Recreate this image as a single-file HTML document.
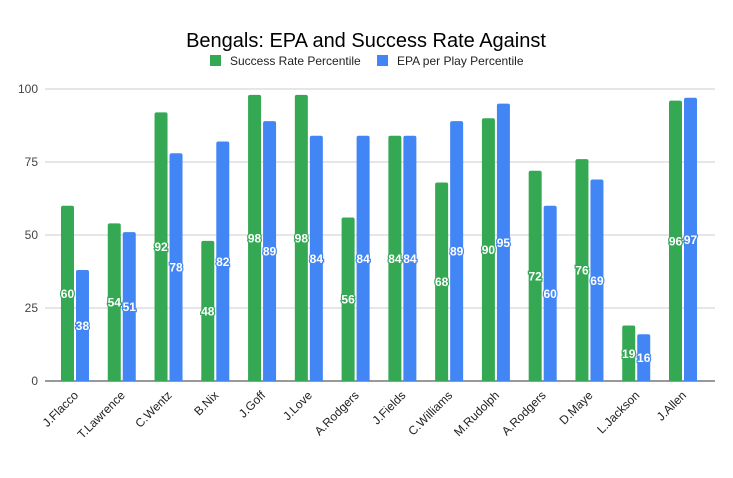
<!DOCTYPE html>
<html><head><meta charset="utf-8"><style>
body{margin:0;background:#fff;font-family:"Liberation Sans",Arial,sans-serif}
svg text{font-family:"Liberation Sans",Arial,sans-serif}
</style></head><body>
<svg id="chart" width="733" height="473" viewBox="0 0 733 473">
<rect width="733" height="473" fill="#fff"/>
<text x="366" y="47" text-anchor="middle" font-size="20" fill="#000">Bengals: EPA and Success Rate Against</text>
<g>
<g><rect x="210" y="55" width="11" height="11" fill="#34a853"/><text x="230" y="65" font-size="12" fill="#222">Success Rate Percentile</text></g>
<g><rect x="377" y="55" width="11" height="11" fill="#4285f4"/><text x="397" y="65" font-size="12" fill="#222">EPA per Play Percentile</text></g>
</g>
<g id="grid"></g><g id="bars"></g><g id="labels"></g><g id="xlabels"></g>
</svg>
<script>
const categories=["J.Flacco","T.Lawrence","C.Wentz","B.Nix","J.Goff","J.Love","A.Rodgers","J.Fields","C.Williams","M.Rudolph","A.Rodgers","D.Maye","L.Jackson","J.Allen"];
const successRate=[60,54,92,48,98,98,56,84,68,90,72,76,19,96];
const epaPerPlay=[38,51,78,82,89,84,84,84,89,95,60,69,16,97];
const yTicks=[0,25,50,75,100];
const NS="http://www.w3.org/2000/svg";
const y0=381,yTop=89,x0=51.6,gw=46.77;
const y=v=>y0-(v/100)*(y0-yTop);
const gx=i=>x0+(i+0.5)*gw;
function mk(t,a,p){const e=document.createElementNS(NS,t);for(const k in a)e.setAttribute(k,a[k]);p.appendChild(e);return e;}
const grid=document.getElementById('grid'),bars=document.getElementById('bars'),labels=document.getElementById('labels'),xl=document.getElementById('xlabels');
yTicks.forEach(t=>{
 const l=mk('line',{x1:45,x2:715,y1:y(t),y2:y(t),stroke:t===0?'#333':'#ccc','stroke-width':1},grid);
 
 
 const tx=mk('text',{x:38,y:y(t)+4,'text-anchor':'end','font-size':12,fill:'#444'},grid);
 tx.textContent=t;
 
 
});
function bar(v,x,color,name){
 const h=y0-y(v),r=2;
 const d=`M${x},${y0} V${y(v)+r} Q${x},${y(v)} ${x+r},${y(v)} H${x+13-r} Q${x+13},${y(v)} ${x+13},${y(v)+r} V${y0} Z`;
 const p=mk('path',{d:d,fill:color},bars);
 
 
 const t=mk('text',{x:x+6.5,y:y(v/2)+4.5,'text-anchor':'middle','font-size':12,'font-weight':'bold',fill:'#fff',stroke:color,'stroke-width':2.5,'paint-order':'stroke'},labels);
 t.textContent=v;
 
 
}
categories.forEach((c,i)=>{
 const cx=gx(i);
 bar(successRate[i],cx-14,'#34a853','bar-success-'+i);
 bar(epaPerPlay[i],cx+1,'#4285f4','bar-epa-'+i);
 const t=mk('text',{x:cx+4,y:396,'text-anchor':'end','font-size':12,fill:'#222',transform:`rotate(-45 ${cx+4} 396)`},xl);
 t.textContent=c;
 
 
});
</script>
</body></html>
